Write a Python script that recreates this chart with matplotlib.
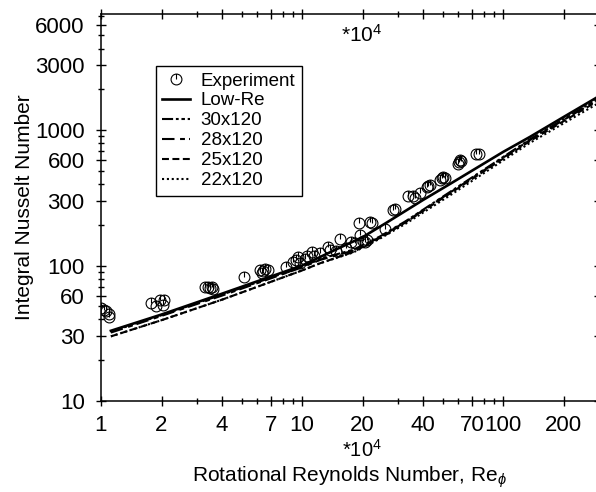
import matplotlib
matplotlib.use("Agg")
import matplotlib.pyplot as plt
import matplotlib.path as mpath
from matplotlib.ticker import FixedLocator, LogLocator, NullFormatter, FuncFormatter

plt.rcParams['font.family'] = ['Liberation Sans', 'DejaVu Sans']
plt.rcParams['mathtext.fontset'] = 'custom'
plt.rcParams['mathtext.rm'] = 'Liberation Sans'
plt.rcParams['mathtext.it'] = 'Liberation Sans:italic'
plt.rcParams['lines.scale_dashes'] = False

# Rotational Reynolds number (x 10^4) and integral Nusselt number
exp_re = [1.0, 1.03, 1.06, 1.09, 1.1,
          1.77, 1.87, 1.97, 2.05, 2.04,
          3.29, 3.42, 3.55, 3.62, 3.49,
          5.15,
          6.2, 6.4, 6.55, 6.8, 6.3,
          8.3,
          9.05, 9.3, 9.6, 9.8, 10.3, 10.6, 11.2, 11.5, 12.3, 13.5, 13.8,
          15.5, 14.8, 16.5, 17.5, 18.4, 19.1, 19.4, 20.0, 20.5, 21.0,
          21.8, 22.2, 25.9, 28.5, 29.0, 33.8, 35.7, 36.4, 38.5, 41.8,
          42.5, 43.4, 48.8, 49.6, 50.5, 51.5, 59.5, 60.5, 61.0, 61.5,
          73.5, 75.5]
exp_nu = [49, 47, 46, 44, 42,
          53, 50, 56, 56, 51,
          69, 70, 70, 67, 68,
          82,
          93, 91, 94, 92, 88,
          98,
          107, 110, 116, 105, 112, 117, 126, 118, 124, 136, 130,
          158, 128, 135, 150, 146, 205, 168, 152, 150, 155,
          209, 207, 185, 256, 260, 324, 326, 313, 345, 381,
          388, 392, 428, 440, 452, 445, 565, 580, 600, 590,
          665, 670]

lowre_re = [1.12, 2, 4, 7, 10, 15, 20, 26, 40, 55, 100, 136, 200, 300]
lowre_nu = [33, 43.5, 62, 83, 100, 133, 162, 205, 305, 404, 690, 891, 1250, 1780]

mesh_re = [1.12, 2, 4, 10, 12.3, 18, 24.4, 33, 54.5, 136, 300]
mesh30_nu = [32.5, 43, 61, 98, 112, 131, 164, 214, 350, 855, 1720]
mesh28_nu = [32, 42.5, 60, 97, 110, 129, 162, 212, 346, 845, 1700]
mesh25_nu = [30, 39.5, 56, 92, 104, 126, 160, 210, 341, 830, 1660]
mesh22_nu = [30, 39.5, 56, 92, 104, 125, 158, 205, 330, 805, 1590]

xticks = [1, 2, 4, 7, 10, 20, 40, 70, 100, 200]
yticks = [10, 30, 60, 100, 300, 600, 1000, 3000, 6000]

# marker: circle with a stroke from centre to top
circ = mpath.Path.unit_circle()
stroke = mpath.Path([[0, 0], [0, 1]], [mpath.Path.MOVETO, mpath.Path.LINETO])
exp_marker = mpath.Path.make_compound_path(circ, stroke)

fig = plt.figure(figsize=(5.96, 4.92), dpi=100)
ax = fig.add_axes([101 / 596, 91 / 492, 498 / 596, 387 / 492])

ax.plot(exp_re, exp_nu, linestyle='none', marker=exp_marker, markersize=7.8,
        markerfacecolor='none', markeredgecolor='black', markeredgewidth=0.8,
        label='Experiment')
ax.plot(lowre_re, lowre_nu, color='black', lw=1.9, label='Low-Re')
ax.plot(mesh_re, mesh30_nu, color='black', lw=1.5,
        linestyle=(0, (8, 2, 2, 2, 2.5, 2)), label='30x120')
ax.plot(mesh_re, mesh28_nu, color='black', lw=1.5,
        linestyle=(0, (9, 4, 3.5, 3)), label='28x120')
ax.plot(mesh_re, mesh25_nu, color='black', lw=1.5,
        linestyle=(0, (5, 2.5)), label='25x120')
ax.plot(mesh_re, mesh22_nu, color='black', lw=1.5,
        linestyle=(0, (1.5, 2)), label='22x120')

ax.set_xscale('log')
ax.set_yscale('log')
ax.set_xlim(1, 300)
ax.set_ylim(10, 7200)

fmt = FuncFormatter(lambda v, p: '%g' % v)
ax.xaxis.set_major_locator(FixedLocator(xticks))
ax.xaxis.set_major_formatter(fmt)
ax.xaxis.set_minor_locator(LogLocator(base=10, subs=range(2, 10)))
ax.xaxis.set_minor_formatter(NullFormatter())
ax.yaxis.set_major_locator(FixedLocator(yticks))
ax.yaxis.set_major_formatter(fmt)
ax.yaxis.set_minor_locator(LogLocator(base=10, subs=range(2, 10)))
ax.yaxis.set_minor_formatter(NullFormatter())

ax.tick_params(which='both', direction='inout', top=True, right=True,
               width=1, labelsize=16)
ax.tick_params(axis='x', which='major', pad=6)
ax.tick_params(axis='y', which='major', pad=8)
ax.tick_params(which='major', length=7.5)
ax.tick_params(which='minor', length=4.5)
for s in ax.spines.values():
    s.set_linewidth(1.1)

ax.set_ylabel('Integral Nusselt Number', fontsize=15, labelpad=1)
# x label placed by hand (display pixels, origin bottom-left) so the subscript stays inside
fig.text(350, 10, r'Rotational Reynolds Number, Re$_{\phi}$', transform=None,
         fontsize=15, ha='center', va='baseline')

# scale notes, display pixels from the bottom-left corner
ax.text(362, 457, r'*10$^4$', transform=None, fontsize=15, ha='center', va='center')
ax.text(362, 42, r'*10$^4$', transform=None, fontsize=14.5, ha='center', va='center')

leg = ax.legend(loc='upper left', bbox_to_anchor=(0.110, 0.866), borderaxespad=0,
                fontsize=13.5, frameon=True, fancybox=False, framealpha=1,
                edgecolor='black', handlelength=1.45, handletextpad=0.6,
                labelspacing=0.15, borderpad=0.35)
leg.get_frame().set_linewidth(1.0)

fig.savefig('out.png', dpi=100)
